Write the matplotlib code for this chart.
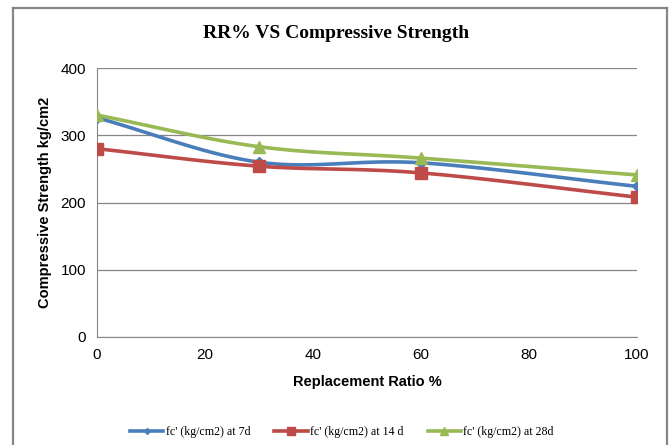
import numpy as np
import matplotlib
matplotlib.use("Agg")
import matplotlib.pyplot as plt
from matplotlib.lines import Line2D

x = [0, 30, 60, 100]
fc_7d = [326, 260, 259, 224]
fc_14d = [280, 254, 244, 208]
fc_28d = [330, 283, 266, 241]
labels = ["fc' (kg/cm2) at 7d", "fc' (kg/cm2) at 14 d", "fc' (kg/cm2) at 28d"]
colors = ["#4A7EBB", "#BE4B48", "#98B954"]
markers = ["D", "s", "^"]
msizes = [5, 9, 9]


def smooth(xs, ys, n=40):
    xs = np.asarray(xs, float); ys = np.asarray(ys, float)
    px = np.concatenate([[2*xs[0]-xs[1]], xs, [2*xs[-1]-xs[-2]]])
    py = np.concatenate([[2*ys[0]-ys[1]], ys, [2*ys[-1]-ys[-2]]])
    ox, oy = [], []
    for i in range(1, len(px)-2):
        t = np.linspace(0, 1, n)
        p0, p1, p2, p3 = (np.array([px[j], py[j]]) for j in range(i-1, i+3))
        b1 = p1 + (p2 - p0) / 6
        b2 = p2 - (p3 - p1) / 6
        pts = ((1-t)**3)[:, None]*p1 + (3*(1-t)**2*t)[:, None]*b1 + (3*(1-t)*t**2)[:, None]*b2 + (t**3)[:, None]*p2
        ox.extend(pts[:, 0]); oy.extend(pts[:, 1])
    return ox, oy


W, H = 672, 445
fig = plt.figure(figsize=(W/100, H/100), dpi=100)
fig.patch.set_facecolor("white")
bx0, bx1, by0 = 12.5/W, 666.5/W, 1 - 7.5/H
for xs_, ys_ in [([bx0, bx0], [0, by0]), ([bx0, bx1], [by0, by0]), ([bx1, bx1], [by0, 0])]:
    fig.add_artist(Line2D(xs_, ys_, transform=fig.transFigure, color="#868686", lw=1.6))

ax = fig.add_axes([97/W, 1 - 337/H, 540/W, 269/H])

for ys, c, m, ms in zip([fc_7d, fc_14d, fc_28d], colors, markers, msizes):
    sx, sy = smooth(x, ys)
    ax.plot(sx, sy, color=c, lw=2.6, solid_capstyle="round", zorder=3)
    ax.plot(x, ys, linestyle="none", marker=m, markersize=ms, color=c, zorder=4)

ax.set_xlim(0, 100)
ax.set_ylim(0, 400)
ax.set_xticks([0, 20, 40, 60, 80, 100])
ax.set_yticks([0, 100, 200, 300, 400])
ax.grid(axis="y", color="#868686", lw=0.9)
ax.set_axisbelow(True)
for s in ["top", "right"]:
    ax.spines[s].set_visible(False)
for s in ["left", "bottom"]:
    ax.spines[s].set_color("#868686")
ax.tick_params(axis="both", labelcolor="black", labelsize=11, length=0, pad=8)
for lab in ax.get_xticklabels() + ax.get_yticklabels():
    lab.set_fontfamily("Liberation Sans")

ax.set_xlabel("Replacement Ratio %", fontsize=10.5, fontweight="bold", family="Liberation Sans", labelpad=9)
ax.set_ylabel("Compressive Strength kg/cm2", fontsize=10.5, fontweight="bold", family="Liberation Sans", labelpad=6)
fig.text(0.5, 1 - 33/H, "RR% VS Compressive Strength", ha="center", va="center",
         fontsize=14, fontweight="bold", family="Liberation Serif")

handles = [Line2D([0], [0], color=c, lw=2.6, marker=m, markersize=ms*0.6) for c, m, ms in zip(colors, markers, msizes)]
fig.legend(handles, labels, loc="center", bbox_to_anchor=(342/W, 1 - 432/H), ncol=3, frameon=False,
           prop={"family": "Liberation Serif", "size": 8.6}, handlelength=2.8, columnspacing=2.0, handletextpad=0.2)

fig.savefig("out.png", dpi=100)
